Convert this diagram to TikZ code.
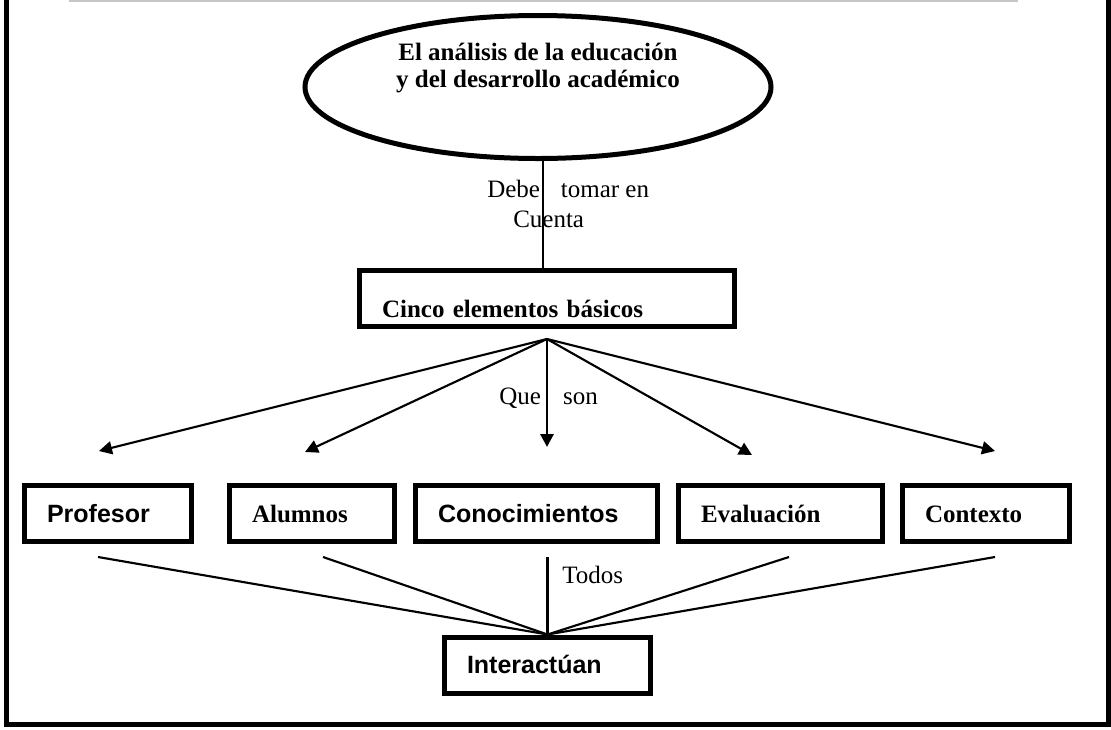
\documentclass[tikz,border=0pt]{standalone}
\usepackage{fontspec}
\setmainfont{Liberation Serif}
\setsansfont{Liberation Sans}
\usepackage{tikz}
\usetikzlibrary{arrows.meta,shapes.geometric}

\begin{document}
\begin{tikzpicture}[x=0.75pt,y=-0.75pt,>={Triangle[length=9.75pt,width=9.75pt]},
	font=\fontsize{18.75}{22.5}\selectfont,
	main node/.style={rectangle,draw,line width=3.75pt,minimum height=42pt,inner xsep=16.9pt,
		align=left,text height=12.75pt,text depth=0pt,font=\fontsize{18.75}{22.5}\selectfont\bfseries},
	sans node/.style={main node,font=\fontsize{18.75}{22.5}\selectfont\sffamily\bfseries},
	label node/.style={anchor=base west,inner sep=0pt},
	conn/.style={line width=1.6pt},
	vconn/.style={line width=2.2pt},
	frame/.style={line width=3.75pt}]
	
	\useasboundingbox (0,0) rectangle (1111,729);
	\draw[frame] (6.5,0) -- (6.5,724.5) -- (1108,724.5) -- (1108,0);
	\draw[gray!45,line width=1.2pt] (69,1) -- (1018,1);
	
	\node[ellipse,draw,line width=3.75pt,minimum width=349.5pt,minimum height=107.25pt,inner sep=0pt,
		align=center,font=\fontsize{18.75}{20.25}\selectfont\bfseries,text height=15pt,text depth=15pt]
		(top) at (538,87) {El análisis de la educación\\y del desarrollo académico};
	\node[main node,text width=247.5pt,text height=27.75pt] (cinco) at (547,298.5) {Cinco elementos básicos};
	\node[sans node,text width=91.5pt] (prof) at (108,513.5) {Profesor};
	\node[main node,text width=90pt] (alum) at (312,513.5) {Alumnos};
	\node[sans node,text width=147.75pt] (cono) at (536.5,513.5) {Conocimientos};
	\node[main node,text width=119.25pt] (eval) at (780.5,513.5) {Evaluación};
	\node[main node,text width=91.5pt] (ctx) at (986,513.5) {Contexto};
	\node[sans node,text width=120.75pt] (inter) at (547.5,665) {Interactúan};
	
	\node[label node,align=left] (debe) at (487,227) {Debe\hspace{11pt} tomar en\\\hspace*{19.5pt}Cuenta};
	\node[label node] (que) at (499,404) {Que\hspace{12pt} son};
	\node[label node] (todos) at (562,583) {Todos};
	
	\coordinate (fan) at ([yshift=-7.5pt]cinco.south);
	\coordinate (a1) at (99,451);
	\coordinate (a2) at (305,452);
	\coordinate (a3) at (547,447);
	\coordinate (a4) at (752,455);
	\coordinate (a5) at (995,451);
	\coordinate (b1) at (98,557);
	\coordinate (b2) at (323,557);
	\coordinate (b3) at (547.5,557);
	\coordinate (b4) at (789,557);
	\coordinate (b5) at (995,557);
	
	\draw[vconn] ([xshift=3.75pt]top.south) -- ([xshift=3.75pt]top.south |- cinco.north);
	\path[->,conn] (fan) edge (a1) edge (a2) edge[vconn] (a3) edge (a4) edge (a5);
	\path[conn] (b1) edge (inter.north) (b2) edge (inter.north) (b3) edge[vconn] (inter.north)
	(b4) edge (inter.north) (b5) edge (inter.north);
	
\end{tikzpicture}
\end{document}
